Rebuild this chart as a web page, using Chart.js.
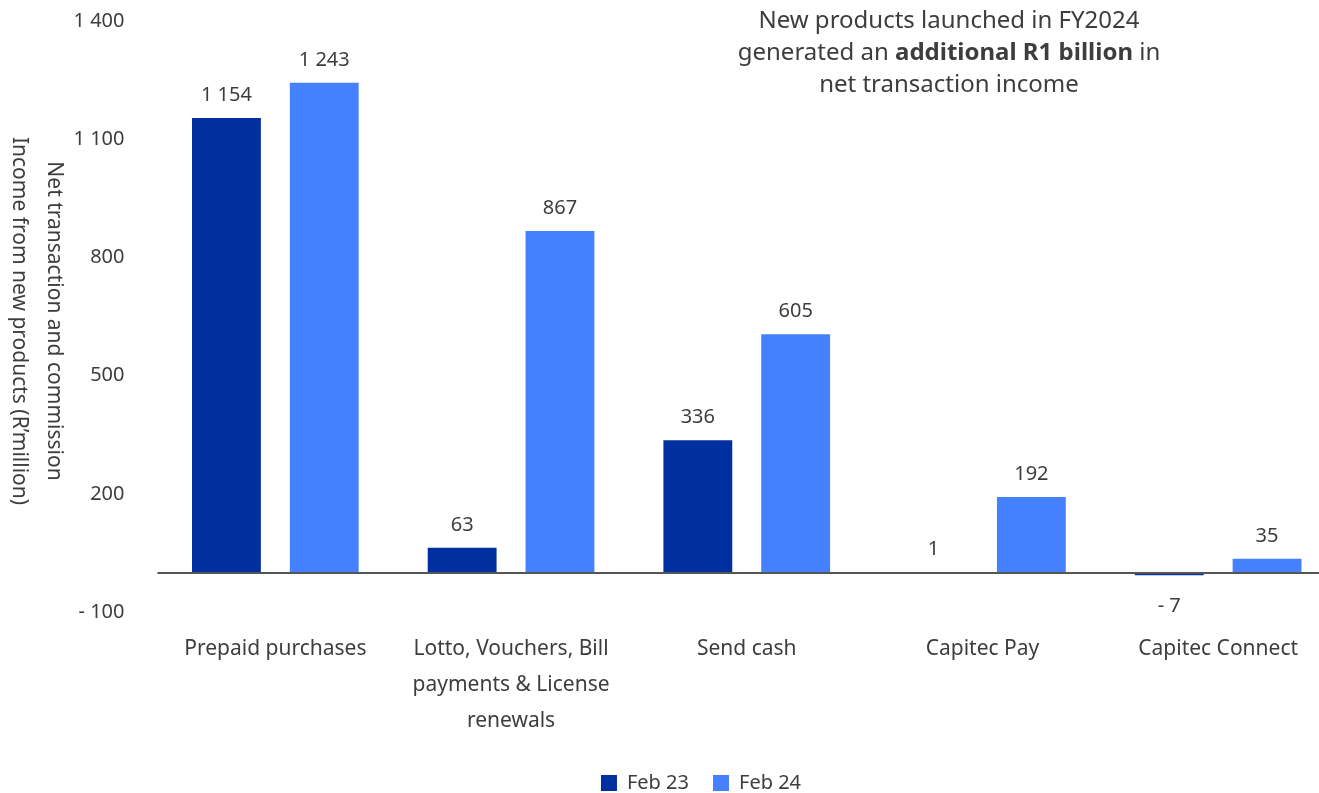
<!DOCTYPE html>
<html>
<head>
<meta charset="utf-8">
<script src="https://cdn.jsdelivr.net/npm/chart.js@4/dist/chart.umd.min.js"></script>
<style>
html,body{margin:0;padding:0;background:#ffffff;overflow:hidden;width:1319px;height:793px;}
#wrap{position:relative;width:1319px;height:793px;overflow:hidden;}
#c{position:absolute;left:0;top:-24px;}
#title{position:absolute;left:649px;top:3px;width:600px;text-align:center;font-family:"Noto Sans";font-size:24px;line-height:32px;color:#3d3d3d;}
#title b{font-weight:700;}
#ytitle{position:absolute;width:460px;height:70px;left:-192.5px;top:286px;line-height:35px;text-align:center;font-family:"Noto Sans";font-size:21px;color:#3d3d3d;transform:rotate(90deg);transform-origin:50% 50%;white-space:nowrap;}
</style>
</head>
<body>
<div id="wrap">
<canvas id="c" width="1337" height="827" style="width:1337px;height:827px;"></canvas>
<div id="title">New products launched in FY2024<br>generated an <b>additional R1 billion</b> in<br>net transaction income</div>
<div id="ytitle">Net transaction and commission<br>Income from new products (R’million)</div>
</div>
<script>
const categories = [
  "Prepaid purchases",
  ["Lotto, Vouchers, Bill", "payments & License", "renewals"],
  "Send cash",
  "Capitec Pay",
  "Capitec Connect"
];
const seriesNames = ["Feb 23", "Feb 24"];
const feb23 = [1154, 63, 336, 1, -7];
const feb24 = [1243, 867, 605, 192, 35];
const yMin = -100, yMax = 1400, yStep = 300;

const TEXT = '#3d3d3d';
const FONT = '"Noto Sans"';

function fmt(v) {
  if (v < 0) return '- ' + fmt(-v);
  return String(v).replace(/\B(?=(\d{3})+(?!\d))/g, ' ');
}

const zeroLine = {
  id: 'zeroLine',
  afterDatasetsDraw(chart) {
    const {ctx, chartArea, scales} = chart;
    const y = Math.round(scales.y.getPixelForValue(0));
    ctx.save();
    ctx.strokeStyle = '#555555';
    ctx.lineWidth = 2;
    ctx.beginPath();
    ctx.moveTo(chartArea.left, y);
    ctx.lineTo(chartArea.right, y);
    ctx.stroke();
    ctx.restore();
  }
};

const dataLabels = {
  id: 'dataLabels',
  afterDatasetsDraw(chart) {
    const ctx = chart.ctx;
    ctx.save();
    ctx.font = '20px ' + FONT;
    ctx.fillStyle = TEXT;
    ctx.textAlign = 'center';
    ctx.textBaseline = 'alphabetic';
    chart.data.datasets.forEach((ds, i) => {
      chart.getDatasetMeta(i).data.forEach((bar, j) => {
        const v = ds.data[j];
        const top = Math.min(bar.y, bar.base);
        const bottom = Math.max(bar.y, bar.base);
        const y = v >= 0 ? top - 17 : bottom + 37;
        ctx.fillText(fmt(v), bar.x, y);
      });
    });
    ctx.restore();
  }
};

Chart.defaults.font.family = FONT;
Chart.defaults.color = TEXT;

new Chart(document.getElementById('c'), {
  type: 'bar',
  data: {
    labels: categories,
    datasets: [
      {label: seriesNames[0], data: feb23, backgroundColor: '#00309f', borderWidth: 0},
      {label: seriesNames[1], data: feb24, backgroundColor: '#4580ff', borderWidth: 0}
    ]
  },
  options: {
    responsive: false,
    animation: false,
    devicePixelRatio: 1,
    categoryPercentage: 0.83,
    barPercentage: 0.704,
    layout: {padding: {left: 66, right: 1, top: 0, bottom: 0}},
    plugins: {
      tooltip: {enabled: false},
      legend: {
        position: 'bottom',
        labels: {boxWidth: 16, boxHeight: 16, padding: 24, color: TEXT, font: {size: 20}}
      }
    },
    scales: {
      x: {
        grid: {display: false, drawTicks: false},
        border: {display: false},
        ticks: {padding: 19, color: TEXT, font: {size: 21, lineHeight: 1.714}, maxRotation: 0, autoSkip: false},
        afterFit(s) { s.height = 137; }
      },
      y: {
        min: yMin, max: yMax,
        grid: {display: false, drawTicks: false},
        border: {display: false},
        ticks: {stepSize: yStep, padding: 33, color: TEXT, font: {size: 20}, callback: (v) => fmt(v)},
        afterFit(s) { s.width = 91.5; }
      }
    }
  },
  plugins: [zeroLine, dataLabels]
});
</script>
</body>
</html>
